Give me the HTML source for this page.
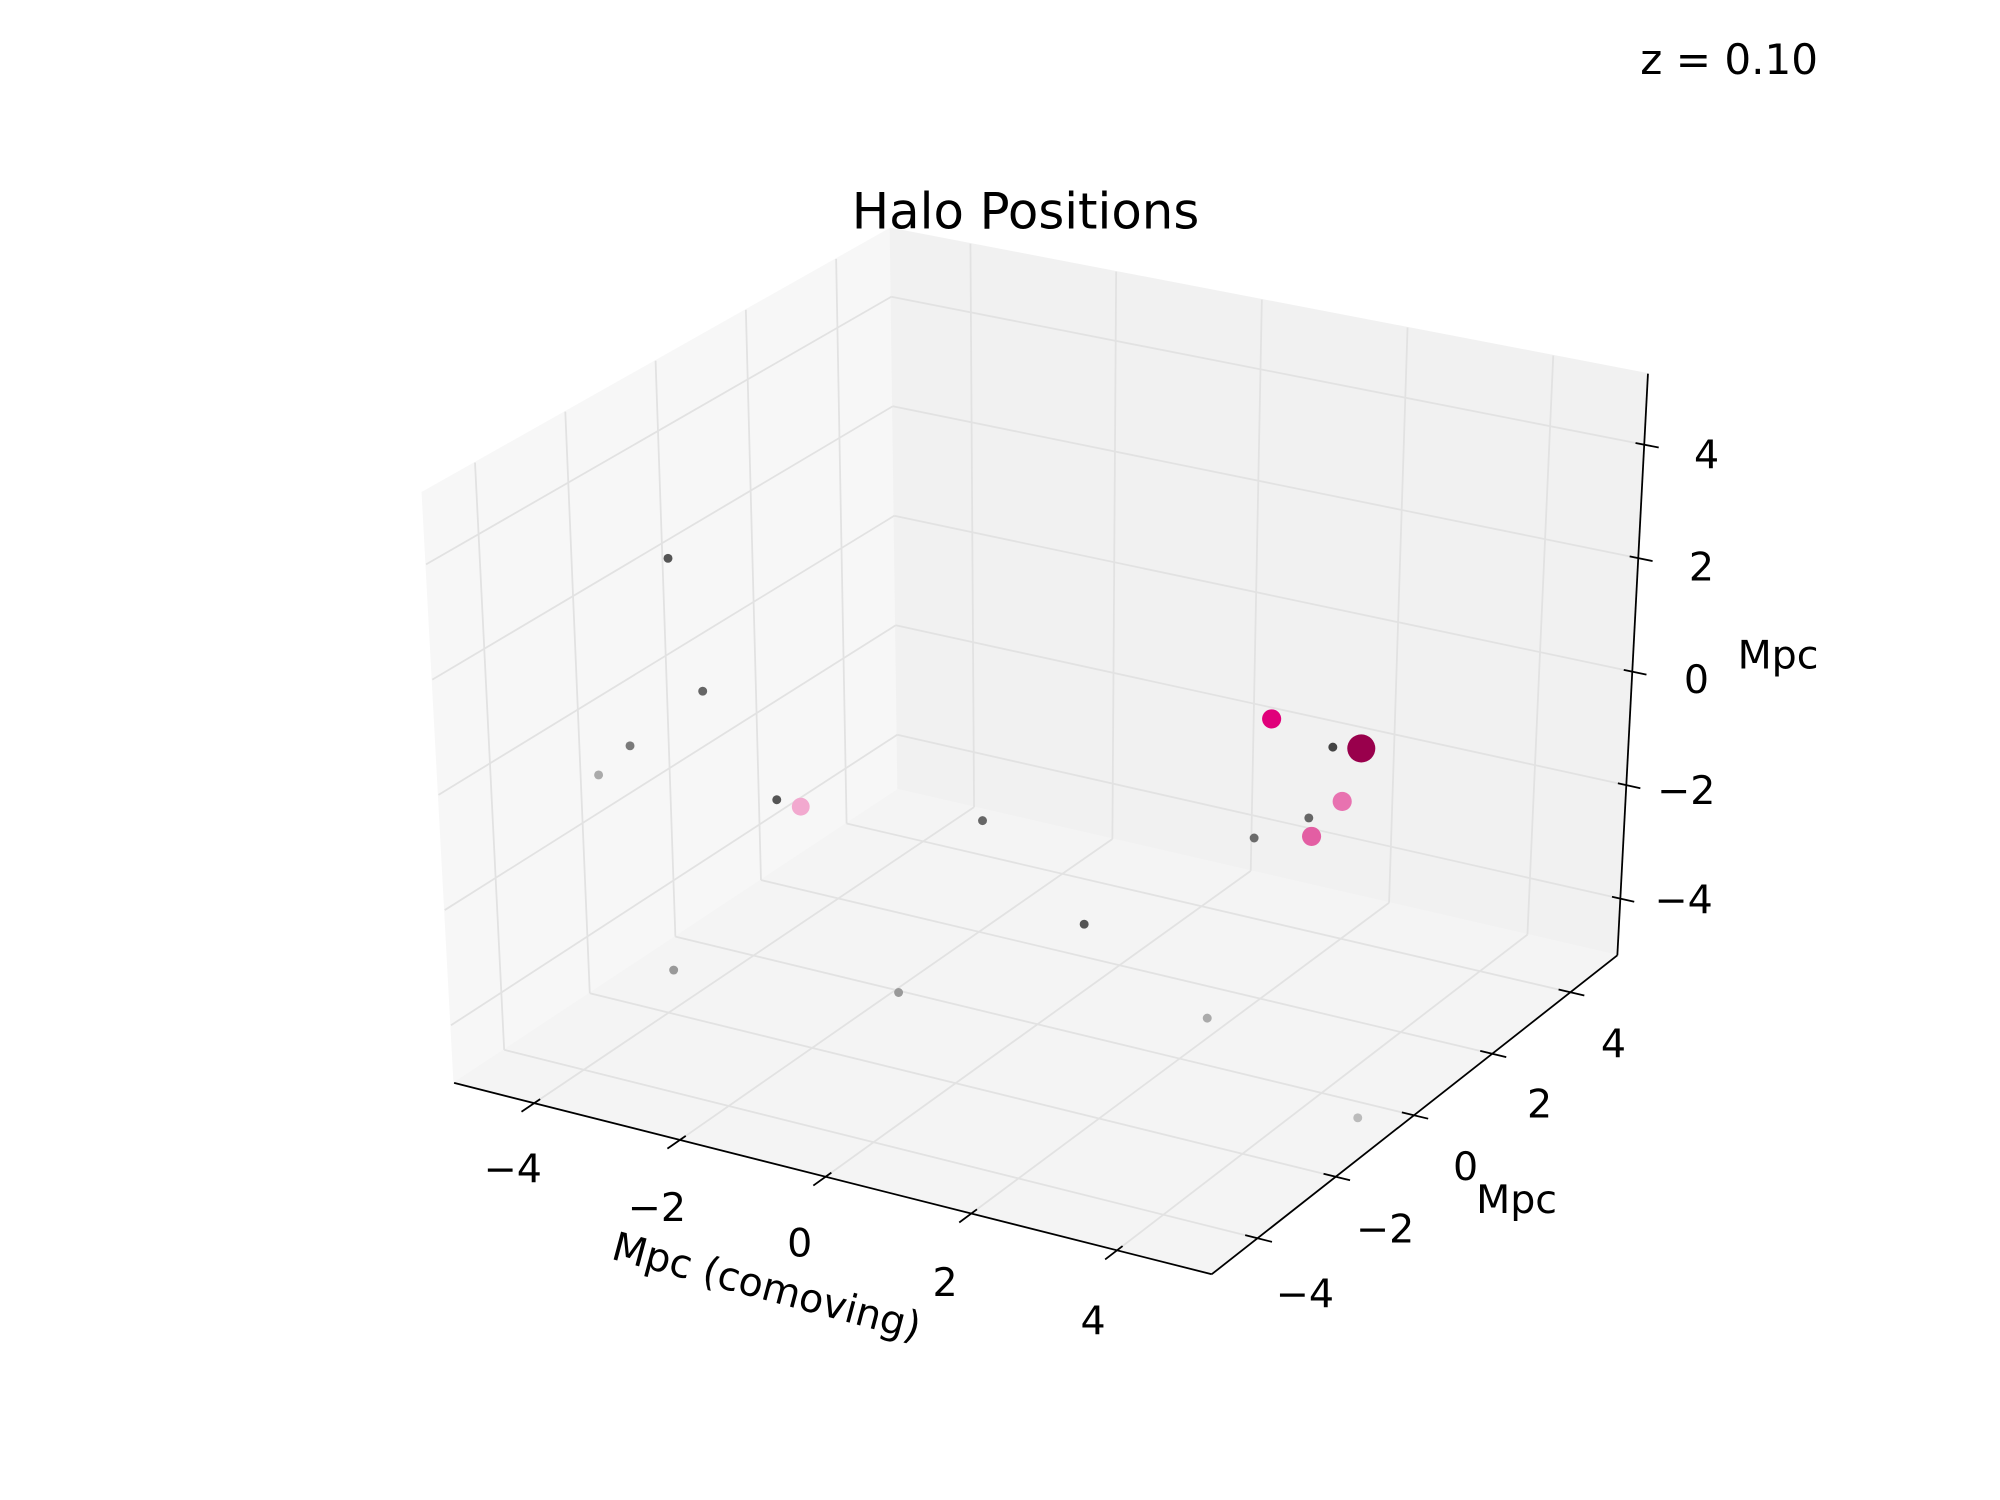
<!DOCTYPE html>
<html><head><meta charset="utf-8"><style>
html,body{margin:0;padding:0;background:#fff;}
svg{display:block;}
text{font-family:"DejaVu Sans","Liberation Sans",sans-serif;fill:#000;}
</style></head><body>
<svg id="chart" xmlns="http://www.w3.org/2000/svg" width="2000" height="1500" viewBox="0 0 1568 1176">
<rect x="0" y="0" width="1568" height="1176" fill="#fff"/>
<g id="panes"></g>
<g id="grid"></g>
<g id="axes"></g>
<g id="pts"></g>
<text x="804" y="179" text-anchor="middle" font-size="39">Halo Positions</text>
<text x="1286" y="58" font-size="33">z = 0.10</text>
<text x="601" y="1009" font-size="31" text-anchor="middle" dominant-baseline="central" transform="rotate(15 601 1009)">Mpc (comoving)</text>
<text x="1189" y="941" font-size="31" text-anchor="middle" dominant-baseline="central">Mpc</text>
<text x="1394" y="514" font-size="31" text-anchor="middle" dominant-baseline="central">Mpc</text>
</svg>
<script>
const xs = [-3.83,-3.22,-4.0,-3.85,-2.6,-2.25,-1.06,0.70,-3.71,-1.07,2.53,4.81,2.14,3.21,3.53,3.28,3.17,3.47,2.89];
const ys = [-1.96,-2.29,-2.67,-3.65,-1.70,-1.74,0.50,-0.10,-2.33,-1.51,-0.28,-0.55,1.87,1.47,1.60,1.62,0.99,0.52,0.14];
const zs = [3,1,0,0,-1,-1,-2,-3,-4,-4,-4,-4.9,0,0,0,-1,-1,-1,-1];
const sizes = [3.5,3.5,3.5,3.5,3.5,7,3.5,3.5,3.5,3.5,3.5,3.5,7.5,3.5,11,7.5,3.5,7.5,3.5];
const colors = ['#555555','#666666','#7a7a7a','#aaaaaa','#555555','#f2a9cf','#666666','#555555','#999999','#999999','#aaaaaa','#bbbbbb','#e0007a','#444444','#99004c','#e872b0','#666666','#e35ea3','#6a6a6a'];
const ticks = [-4,-2,0,2,4];
const tickLabels = ['\u22124','\u22122','0','2','4'];

const XL=[-5.1,5.3], YL=[-5.17,5.2], ZL=[-5,5.25];
const C = {'000':[356,849],'100':[950,999],'110':[1268,749],'010':[704,619],
           '001':[331,386],'101':[965,515],'111':[1292,293],'011':[698,179]};
function proj(x,y,z){
  const u=(x-XL[0])/(XL[1]-XL[0]), v=(y-YL[0])/(YL[1]-YL[0]), w=(z-ZL[0])/(ZL[1]-ZL[0]);
  let px=0,py=0;
  for(const a of [0,1])for(const b of [0,1])for(const c of [0,1]){
    const wt=(a?u:1-u)*(b?v:1-v)*(c?w:1-w);
    const p=C[''+a+b+c]; px+=wt*p[0]; py+=wt*p[1];
  }
  return [px,py];
}
const NS='http://www.w3.org/2000/svg';
function el(tag,attrs,parent){const e=document.createElementNS(NS,tag);for(const k in attrs)e.setAttribute(k,attrs[k]);parent.appendChild(e);return e;}
function poly(pts,fill,parent){return el('polygon',{points:pts.map(p=>p.join(',')).join(' '),fill:fill,stroke:fill,'stroke-width':1},parent);}
function line(a,b,stroke,w,parent){return el('line',{x1:a[0],y1:a[1],x2:b[0],y2:b[1],stroke:stroke,'stroke-width':w},parent);}
const panes=document.getElementById('panes'), grid=document.getElementById('grid'), axes=document.getElementById('axes'), pts=document.getElementById('pts');
const [x0,x1]=XL,[y0,y1]=YL,[z0,z1]=ZL;
let p;
p=poly([proj(x0,y0,z0),proj(x0,y1,z0),proj(x0,y1,z1),proj(x0,y0,z1)],'#f7f7f7',panes);


p=poly([proj(x0,y1,z0),proj(x1,y1,z0),proj(x1,y1,z1),proj(x0,y1,z1)],'#f1f1f1',panes);


p=poly([proj(x0,y0,z0),proj(x1,y0,z0),proj(x1,y1,z0),proj(x0,y1,z0)],'#f4f4f4',panes);


const GC='#e2e2e2', GW=1.4;
ticks.forEach(t=>{
  let l;
  l=line(proj(t,y0,z0),proj(t,y1,z0),GC,GW,grid);  
  l=line(proj(x0,t,z0),proj(x1,t,z0),GC,GW,grid);  
  l=line(proj(t,y1,z0),proj(t,y1,z1),GC,GW,grid);  
  l=line(proj(x0,y1,t),proj(x1,y1,t),GC,GW,grid);  
  l=line(proj(x0,t,z0),proj(x0,t,z1),GC,GW,grid);  
  l=line(proj(x0,y0,t),proj(x0,y1,t),GC,GW,grid);  
});
let ax;
ax=line(proj(x0,y0,z0),proj(x1,y0,z0),'#000',1.4,axes);  
ax=line(proj(x1,y0,z0),proj(x1,y1,z0),'#000',1.4,axes);  
ax=line(proj(x1,y1,z0),proj(x1,y1,z1),'#000',1.4,axes);  
const xLab=[[402,917],[515,947],[627,975],[741,1006],[857,1036]];
const yLab=[[1023,1015],[1086,964],[1149,915],[1207,866],[1265,819]];
const zLab=[[1320,706],[1322,620],[1330,533],[1334,445],[1338,357]];
ticks.forEach((t,i)=>{
  let a,b,tk,tx;
  a=proj(t,y0-0.3,z0); b=proj(t,y0+0.14,z0);
  tk=line(a,b,'#000',1.4,axes);  
  tx=el('text',{x:xLab[i][0],y:xLab[i][1],'font-size':31,'text-anchor':'middle','dominant-baseline':'central'},axes); tx.textContent=tickLabels[i];
   
  a=proj(x1-0.17,t,z0); b=proj(x1+0.2,t,z0);
  tk=line(a,b,'#000',1.4,axes);  
  tx=el('text',{x:yLab[i][0],y:yLab[i][1],'font-size':31,'text-anchor':'middle','dominant-baseline':'central'},axes); tx.textContent=tickLabels[i];
   
  a=proj(x1-0.12,y1,t); b=proj(x1+0.2,y1,t);
  tk=line(a,b,'#000',1.4,axes);  
  tx=el('text',{x:zLab[i][0],y:zLab[i][1],'font-size':31,'text-anchor':'middle','dominant-baseline':'central'},axes); tx.textContent=tickLabels[i];
   
});
xs.forEach((x,i)=>{
  const q=proj(x,ys[i],zs[i]);
  const c=el('circle',{cx:q[0],cy:q[1],r:sizes[i],fill:colors[i]},pts);
  
  
});
</script>
</body></html>
